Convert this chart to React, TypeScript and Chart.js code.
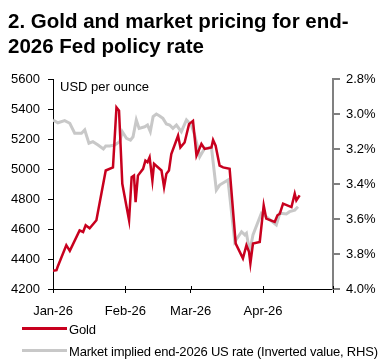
import React, { useEffect, useRef } from 'react';
import { Chart, registerables } from 'chart.js';

Chart.register(...registerables);

// ---- Data (days since 1 Jan 2026) ----
const goldDays = [
  0, 1.5, 2, 5.7, 7.2, 11.4, 12.9, 14, 15.7, 18.6,
  22.6, 25.7, 27.2, 28.3, 29.7, 32.6, 33.7, 34.7, 35.4, 36.4,
  38.6, 39.6, 40.5, 41.4, 42.6, 43.3, 46.5, 47.6, 48.6, 49.7,
  50.7, 53.6, 54.6, 56.4, 58.3, 60, 61.5, 63.6, 65, 67.9,
  68.6, 69.7, 71.4, 72.9, 75.7, 78.3, 81.4, 82.9, 84, 84.6,
  85.7, 88.6, 90.3, 91.4, 95, 96.2, 97.2, 98.6, 102.2, 103.6,
  104.3, 105.7,
];
const goldValues = [
  4321, 4326, 4348, 4492, 4454, 4591, 4580, 4625, 4605, 4658,
  4990, 5011, 5410, 5388, 4901, 4658, 4945, 4956, 4779, 4956,
  5001, 5056, 5045, 5078, 4923, 5034, 4990, 4879, 4968, 4990,
  5100, 5222, 5144, 5177, 5299, 5321, 5089, 5167, 5134, 5144,
  5193, 5155, 5023, 5011, 5001, 4503, 4404, 4492, 4448, 4371,
  4503, 4514, 4757, 4669, 4647, 4691, 4702, 4769, 4746, 4835,
  4791, 4824,
];
const rateDays = [
  0, 2.1, 5, 7.2, 9.3, 12.2, 13.6, 15.4, 17.1, 19.3,
  21.6, 22.6, 24.3, 26.4, 28.6, 29.7, 31.5, 33.2, 34.3, 35.7,
  36.9, 39.3, 40.5, 41.7, 42.9, 44.3, 45.7, 47.1, 48.6, 50,
  51.4, 52.9, 55, 57.2, 59.3, 60.7, 62.1, 62.9, 65, 66.4,
  67.9, 70, 71.4, 75, 77.9, 80.8, 82.2, 82.9, 84.3, 85.7,
  89.3, 91.4, 95.7, 97.2, 100, 101.4, 103.6, 105,
];
const rateValues = [
  3.034, 3.05, 3.038, 3.053, 3.11, 3.11, 3.091, 3.167, 3.158, 3.177,
  3.2, 3.183, 3.183, 3.177, 3.158, 3.101, 3.139, 3.149, 3.13, 3.034,
  3.082, 3.073, 3.063, 3.101, 3.015, 3.0, 3.011, 3.025, 3.057, 3.063,
  3.082, 3.063, 3.101, 3.034, 3.063, 3.12, 3.196, 3.244, 3.196, 3.196,
  3.19, 3.434, 3.406, 3.377, 3.73, 3.673, 3.691, 3.682, 3.787, 3.691,
  3.567, 3.587, 3.634, 3.567, 3.571, 3.558, 3.549, 3.53,
];

const xTickDays = [0, 31, 59, 90, 120];
const xTickLabels = ['Jan-26', 'Feb-26', 'Mar-26', 'Apr-26', ''];
const goldAxis = { min: 4200, max: 5600, step: 200 };
const rateAxis = { min: 2.8, max: 4.0, step: 0.2 };

const titleLines = ['2. Gold and market pricing for end-', '2026 Fed policy rate'];
const unitLabel = 'USD per ounce';
const seriesNames = ['Gold', 'Market implied end-2026 US rate (Inverted value, RHS)'];

const RED = '#C8001E';
const GREY = '#C8C8C8';
const FONT = '"Liberation Sans", Arial, sans-serif';

const innerTicks = {
  id: 'innerTicks',
  afterDraw(chart: any) {
    const { ctx, chartArea, scales } = chart;
    const x = scales.x;
    ctx.save();
    ctx.strokeStyle = '#000';
    ctx.lineWidth = 1;
    xTickDays.forEach((d) => {
      const px = Math.round(x.getPixelForValue(d)) + 0.5;
      ctx.beginPath();
      ctx.moveTo(px, chartArea.bottom - 3);
      ctx.lineTo(px, chartArea.bottom);
      ctx.stroke();
    });
    ctx.restore();
  },
};

export default function App() {
  const ref = useRef<HTMLCanvasElement>(null);

  useEffect(() => {
    const tickFont = { family: FONT, size: 13 };
    const chart = new Chart(ref.current as HTMLCanvasElement, {
      type: 'line',
      data: {
        datasets: [
          {
            label: seriesNames[0],
            data: goldDays.map((d, i) => ({ x: d, y: goldValues[i] })),
            borderColor: RED,
            backgroundColor: RED,
            borderWidth: 2.5,
            pointRadius: 0,
            tension: 0,
            yAxisID: 'y',
          },
          {
            label: seriesNames[1],
            data: rateDays.map((d, i) => ({ x: d, y: rateValues[i] })),
            borderColor: GREY,
            backgroundColor: GREY,
            borderWidth: 3,
            pointRadius: 0,
            tension: 0,
            yAxisID: 'y1',
          },
        ],
      },
      options: {
        animation: false,
        responsive: false,
        layout: { padding: { top: 79, bottom: 45, left: 0, right: 0 } },
        plugins: { legend: { display: false }, title: { display: false }, tooltip: { enabled: false } },
        scales: {
          x: {
            type: 'linear',
            min: 0,
            max: 120,
            afterBuildTicks: (s: any) => {
              s.ticks = xTickDays.map((v) => ({ value: v }));
            },
            afterFit: (s: any) => {
              s.height = 30;
            },
            ticks: {
              font: tickFont,
              color: '#000',
              maxRotation: 0,
              autoSkip: false,
              padding: 11,
              callback: (v: any) => {
                const i = xTickDays.indexOf(Number(v));
                return i >= 0 ? xTickLabels[i] : '';
              },
            },
            grid: { drawOnChartArea: false, drawTicks: true, tickLength: 4, color: '#000' },
            border: { display: true, color: '#000', width: 1 },
          },
          y: {
            position: 'left',
            min: goldAxis.min,
            max: goldAxis.max,
            afterFit: (s: any) => {
              s.width = 53;
            },
            ticks: {
              stepSize: goldAxis.step,
              font: tickFont,
              color: '#000',
              padding: 8,
              callback: (v: any) => String(Math.round(Number(v))),
            },
            grid: { drawOnChartArea: false, tickLength: 5, color: '#000' },
            border: { display: true, color: '#000', width: 1 },
          },
          y1: {
            position: 'right',
            reverse: true,
            min: rateAxis.min,
            max: rateAxis.max,
            afterFit: (s: any) => {
              s.width = 55;
            },
            ticks: {
              stepSize: rateAxis.step,
              font: tickFont,
              color: '#000',
              padding: 6,
              callback: (v: any) => Number(v).toFixed(1) + '%',
            },
            grid: { drawOnChartArea: false, tickLength: 7, color: '#808080', lineWidth: 2 },
            border: { display: true, color: '#808080', width: 2 },
          },
        },
      },
      plugins: [innerTicks],
    } as any);
    return () => chart.destroy();
  }, []);

  const rowStyle = (top: number): React.CSSProperties => ({
    position: 'absolute',
    left: 0,
    top,
    height: 15,
    width: 388,
  });

  return (
    <div
      style={{
        position: 'absolute',
        left: 0,
        top: 0,
        width: 388,
        height: 364,
        background: '#fff',
        fontFamily: FONT,
        color: '#000',
        overflow: 'hidden',
      }}
    >
      <canvas ref={ref} width={388} height={364} style={{ position: 'absolute', left: 0, top: 0 }} />
      <div
        style={{
          position: 'absolute',
          left: 8,
          top: 8,
          fontSize: 20.5,
          lineHeight: '25px',
          fontWeight: 'bold',
          whiteSpace: 'nowrap',
        }}
      >
        {titleLines.map((t, i) => (
          <div key={i}>{t}</div>
        ))}
      </div>
      <div style={{ position: 'absolute', left: 60, top: 79, fontSize: 13, lineHeight: '15px', whiteSpace: 'nowrap' }}>
        {unitLabel}
      </div>
      {seriesNames.map((name, i) => {
        const center = i === 0 ? 329 : 351;
        const color = i === 0 ? RED : GREY;
        return (
          <div key={i} style={rowStyle(center - 7.35)}>
            <div
              style={{
                position: 'absolute',
                left: 22,
                top: 7.35 - 1.5,
                width: 45,
                height: 3,
                background: color,
              }}
            />
            <div
              style={{
                position: 'absolute',
                left: 69,
                top: 0,
                fontSize: 13,
                lineHeight: '15px',
                letterSpacing: '-0.2px',
                whiteSpace: 'nowrap',
              }}
            >
              {name}
            </div>
          </div>
        );
      })}
    </div>
  );
}
